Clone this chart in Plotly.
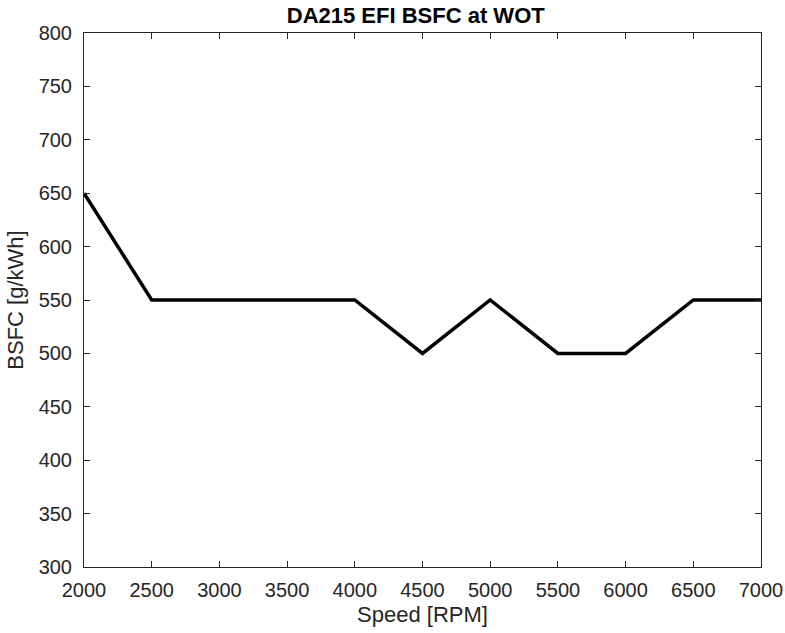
import plotly.graph_objects as go

speed = [2000, 2500, 3000, 3500, 4000, 4500, 5000, 5500, 6000, 6500, 7000]
bsfc = [650, 550, 550, 550, 550, 500, 550, 500, 500, 550, 550]

title_text = "DA215 EFI BSFC at WOT"
x_title = "Speed [RPM]"
y_title = "BSFC [g/kWh]"

axcol = "#262626"
font = "Liberation Sans, Arial, sans-serif"

fig = go.Figure()
fig.add_trace(go.Scatter(x=speed, y=bsfc, mode="lines",
                         line=dict(color="black", width=3.5), showlegend=False))

fig.update_layout(
    width=785, height=633,
    margin=dict(l=84, r=24, t=33, b=66, autoexpand=False),
    paper_bgcolor="white", plot_bgcolor="white",
    font=dict(family=font, color=axcol, size=20),
    title=dict(text="<b>" + title_text + "</b>", x=0.49, xref="paper", xanchor="center",
               y=1 - 15 / 633, yref="container", yanchor="middle",
               font=dict(family=font, size=22, color="black")),
)
fig.update_xaxes(range=[2000, 7000], tickvals=list(range(2000, 7001, 500)),
                 showgrid=False, zeroline=False, showline=True, linecolor=axcol, linewidth=1,
                 mirror="allticks", ticks="inside", ticklen=6, tickcolor=axcol,
                 tickfont=dict(size=20, color=axcol), automargin=False,
                 ticklabeloverflow="allow", ticklabelstandoff=5,
                 title=dict(text=x_title, font=dict(size=22, color=axcol), standoff=6))
fig.update_yaxes(range=[300, 800], tickvals=list(range(300, 801, 50)),
                 showgrid=False, zeroline=False, showline=True, linecolor=axcol, linewidth=1,
                 mirror="allticks", ticks="inside", ticklen=6, tickcolor=axcol,
                 tickfont=dict(size=20, color=axcol), automargin=False,
                 ticklabeloverflow="allow", ticklabelstandoff=7,
                 title=dict(text=y_title, font=dict(size=22, color=axcol), standoff=8))

fig.write_html("out.html")
